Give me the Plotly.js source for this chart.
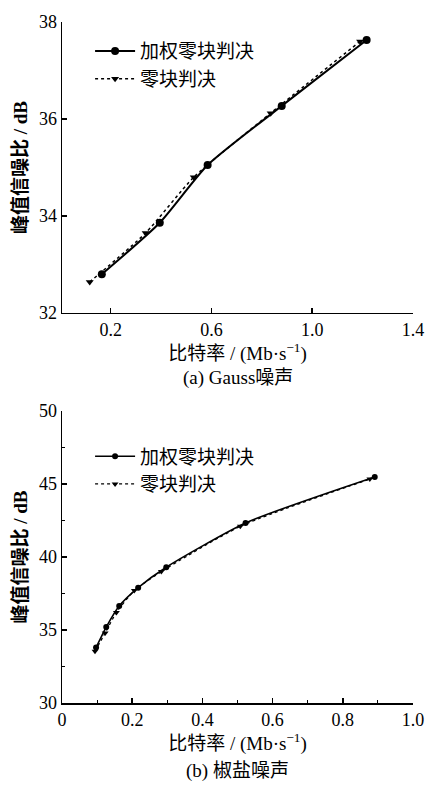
<!DOCTYPE html>
<html>
<head>
<meta charset="utf-8">
<script src="https://cdn.plot.ly/plotly-3.0.1.min.js"></script>
<style>html,body{margin:0;padding:0;background:#fff;}#chart{width:428px;height:787px;}</style>
</head>
<body>
<div id="chart"></div>
<script>
// (a) Gauss noise
const gaussWeightedX = [0.165, 0.395, 0.585, 0.879, 1.216];
const gaussWeightedY = [32.80, 33.86, 35.05, 36.27, 37.63];
const gaussZeroX = [0.117, 0.339, 0.530, 0.835, 1.190];
const gaussZeroY = [32.64, 33.65, 34.80, 36.12, 37.60];
// (b) salt & pepper noise
const spWeightedX = [0.097, 0.126, 0.163, 0.217, 0.297, 0.523, 0.891];
const spWeightedY = [33.80, 35.20, 36.64, 37.90, 39.30, 42.33, 45.48];
const spZeroX = [0.094, 0.123, 0.155, 0.206, 0.283, 0.508, 0.877];
const spZeroY = [33.55, 34.80, 36.20, 37.70, 39.00, 42.10, 45.34];

const seriesNames = ['加权零块判决', '零块判决'];
const topXTicks = [0.2, 0.6, 1.0, 1.4];
const topYTicks = [32, 34, 36, 38];
const botXTicks = [0, 0.2, 0.4, 0.6, 0.8, 1.0];
const botYTicks = [30, 35, 40, 45, 50];
const xTitle = '比特率 / (Mb·s<sup>−1</sup>)';
const yTitle = '峰值信噪比 / dB';
const captionA = '(a) Gauss噪声';
const captionB = '(b) 椒盐噪声';

const FONT = 'Liberation Serif, Noto Sans CJK SC, serif';
const CJK = 'Liberation Serif, Noto Sans CJK SC, sans-serif';

const traces = [
  {x: gaussWeightedX, y: gaussWeightedY, name: seriesNames[0], mode: 'lines+markers', xaxis: 'x', yaxis: 'y', legend: 'legend',
   line: {color: '#000', width: 2, shape: 'spline', smoothing: 0.6}, marker: {symbol: 'circle', size: 8, color: '#000'}},
  {x: gaussZeroX, y: gaussZeroY, name: seriesNames[1], mode: 'lines+markers', xaxis: 'x', yaxis: 'y', legend: 'legend',
   line: {color: '#000', width: 1.5, dash: 'dot', shape: 'spline', smoothing: 0.6}, marker: {symbol: 'triangle-down', size: 7, color: '#000'}},
  {x: spWeightedX, y: spWeightedY, name: seriesNames[0], mode: 'lines+markers', xaxis: 'x2', yaxis: 'y2', legend: 'legend2',
   line: {color: '#000', width: 1.6, shape: 'spline', smoothing: 0.6}, marker: {symbol: 'circle', size: 6, color: '#000'}},
  {x: spZeroX, y: spZeroY, name: seriesNames[1], mode: 'lines+markers', xaxis: 'x2', yaxis: 'y2', legend: 'legend2',
   line: {color: '#000', width: 1.3, dash: 'dot', shape: 'spline', smoothing: 0.6}, marker: {symbol: 'triangle-down', size: 6, color: '#000'}}
];

const axisBase = {
  showline: true, linecolor: '#000', linewidth: 1.5, showgrid: false, zeroline: false,
  ticks: 'inside', ticklen: 5, tickwidth: 1.5, tickcolor: '#000',
  tickfont: {family: FONT, size: 18, color: '#000'}
};

const layout = {
  width: 428, height: 787,
  margin: {l: 62, r: 15, t: 22, b: 84},
  paper_bgcolor: '#fff', plot_bgcolor: '#fff',
  showlegend: true,
  xaxis: Object.assign({}, axisBase, {domain: [0, 1], anchor: 'y', range: [0.007, 1.4],
    tickvals: topXTicks, ticktext: topXTicks.map(v => v.toFixed(1)),
    title: {text: xTitle, font: {family: CJK, size: 19, color: '#000'}, standoff: 5}}),
  yaxis: Object.assign({}, axisBase, {domain: [0.5727, 1], anchor: 'x', range: [32, 38],
    tickvals: topYTicks, ticktext: topYTicks.map(String),
    title: {text: yTitle, font: {family: CJK, size: 19, color: '#000', weight: 'bold'}, standoff: 6}}),
  xaxis2: Object.assign({}, axisBase, {domain: [0, 1], anchor: 'y2', range: [0, 1.0],
    tickvals: botXTicks, ticktext: botXTicks.map(v => v === 0 ? '0' : v.toFixed(1)),
    minor: {dtick: 0.1, tick0: 0, ticks: 'inside', ticklen: 3, tickwidth: 1.2, tickcolor: '#000', showgrid: false},
    title: {text: xTitle, font: {family: CJK, size: 19, color: '#000'}, standoff: 5}}),
  yaxis2: Object.assign({}, axisBase, {domain: [0, 0.4288], anchor: 'x2', range: [30, 50],
    tickvals: botYTicks, ticktext: botYTicks.map(String),
    minor: {dtick: 2.5, tick0: 30, ticks: 'inside', ticklen: 3, tickwidth: 1.2, tickcolor: '#000', showgrid: false},
    title: {text: yTitle, font: {family: CJK, size: 19, color: '#000', weight: 'bold'}, standoff: 6}}),
  legend: {x: 0.08, y: 0.985, xanchor: 'left', yanchor: 'top', bgcolor: 'rgba(0,0,0,0)',
    font: {family: CJK, size: 19, color: '#000'}, itemwidth: 40, tracegroupgap: 0},
  legend2: {x: 0.08, y: 0.39, xanchor: 'left', yanchor: 'top', bgcolor: 'rgba(0,0,0,0)',
    font: {family: CJK, size: 19, color: '#000'}, itemwidth: 40, tracegroupgap: 0},
  annotations: [
    {text: captionA, xref: 'paper', yref: 'paper', x: 0.5, y: (703 - 378) / 681, xanchor: 'center', yanchor: 'middle',
     showarrow: false, font: {family: CJK, size: 19, color: '#000'}},
    {text: captionB, xref: 'paper', yref: 'paper', x: 0.5, y: (703 - 771) / 681, xanchor: 'center', yanchor: 'middle',
     showarrow: false, font: {family: CJK, size: 19, color: '#000'}}
  ]
};

Plotly.newPlot('chart', traces, layout, {staticPlot: true, displayModeBar: false});
</script>
</body>
</html>
